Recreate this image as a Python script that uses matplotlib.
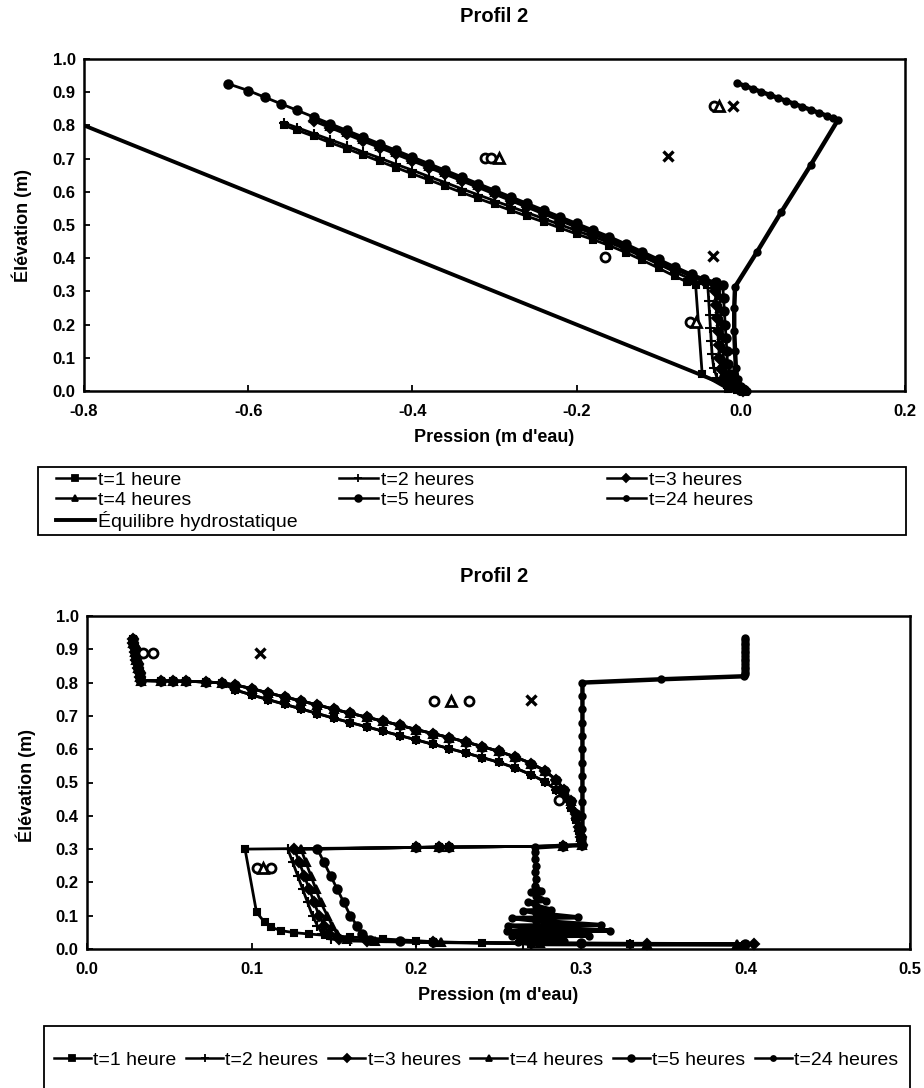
import matplotlib
matplotlib.use("Agg")
import matplotlib.pyplot as plt
from matplotlib.patches import Rectangle

plt.rcParams["font.family"] = ["Liberation Sans", "DejaVu Sans"]
plt.rcParams["axes.unicode_minus"] = False

W, H = 924, 1088

# ---------------- data : (pression, elevation) ----------------
labels = ["t=1 heure", "t=2 heures", "t=3 heures", "t=4 heures", "t=5 heures", "t=24 heures"]
hydro_label = "Équilibre hydrostatique"

# Profil 2 - first chart
top_t1 = [(-0.557, 0.800), (-0.540, 0.785), (-0.520, 0.767), (-0.500, 0.748), (-0.480, 0.730),
          (-0.460, 0.711), (-0.440, 0.692), (-0.420, 0.673), (-0.400, 0.654), (-0.380, 0.636),
          (-0.360, 0.617), (-0.340, 0.598), (-0.320, 0.580), (-0.300, 0.562), (-0.280, 0.544),
          (-0.260, 0.526), (-0.240, 0.509), (-0.220, 0.491), (-0.200, 0.473), (-0.180, 0.456),
          (-0.160, 0.438), (-0.140, 0.417), (-0.120, 0.394), (-0.100, 0.370), (-0.080, 0.345),
          (-0.065, 0.328), (-0.055, 0.318), (-0.047, 0.050), (-0.015, 0.005), (0.002, 0.000)]
top_t2 = [(-0.557, 0.808), (-0.540, 0.793), (-0.520, 0.775), (-0.500, 0.757), (-0.480, 0.739),
          (-0.460, 0.720), (-0.440, 0.702), (-0.420, 0.683), (-0.400, 0.665), (-0.380, 0.646),
          (-0.360, 0.628), (-0.340, 0.609), (-0.320, 0.591), (-0.300, 0.573), (-0.280, 0.555),
          (-0.260, 0.537), (-0.240, 0.519), (-0.220, 0.501), (-0.200, 0.483), (-0.180, 0.465),
          (-0.160, 0.447), (-0.140, 0.427), (-0.120, 0.405), (-0.100, 0.382), (-0.080, 0.358),
          (-0.060, 0.336), (-0.045, 0.322), (-0.040, 0.310), (-0.039, 0.270), (-0.038, 0.230),
          (-0.037, 0.190), (-0.036, 0.150), (-0.035, 0.110), (-0.033, 0.070), (-0.029, 0.040),
          (-0.020, 0.020), (-0.008, 0.007), (0.002, 0.000)]
top_t3 = [(-0.520, 0.813), (-0.500, 0.793), (-0.480, 0.773), (-0.460, 0.753), (-0.440, 0.733),
          (-0.420, 0.713), (-0.400, 0.693), (-0.380, 0.673), (-0.360, 0.653), (-0.340, 0.633),
          (-0.320, 0.613), (-0.300, 0.593), (-0.280, 0.573), (-0.260, 0.553), (-0.240, 0.533),
          (-0.220, 0.513), (-0.200, 0.493), (-0.180, 0.473), (-0.160, 0.453), (-0.140, 0.432),
          (-0.120, 0.410), (-0.100, 0.388), (-0.080, 0.366), (-0.060, 0.345), (-0.045, 0.332),
          (-0.033, 0.322), (-0.031, 0.300), (-0.030, 0.260), (-0.029, 0.220), (-0.028, 0.180),
          (-0.027, 0.140), (-0.026, 0.100), (-0.024, 0.065), (-0.020, 0.040), (-0.012, 0.020),
          (-0.004, 0.007), (0.003, 0.000)]
top_t4 = [(-0.520, 0.822), (-0.500, 0.799), (-0.480, 0.779), (-0.460, 0.759), (-0.440, 0.739),
          (-0.420, 0.719), (-0.400, 0.699), (-0.380, 0.679), (-0.360, 0.659), (-0.340, 0.639),
          (-0.320, 0.619), (-0.300, 0.599), (-0.280, 0.579), (-0.260, 0.559), (-0.240, 0.539),
          (-0.220, 0.519), (-0.200, 0.499), (-0.180, 0.479), (-0.160, 0.459), (-0.140, 0.437),
          (-0.120, 0.415), (-0.100, 0.392), (-0.080, 0.370), (-0.060, 0.348), (-0.045, 0.335),
          (-0.030, 0.325), (-0.027, 0.318), (-0.026, 0.290), (-0.025, 0.250), (-0.024, 0.210),
          (-0.023, 0.170), (-0.022, 0.130), (-0.021, 0.090), (-0.019, 0.060), (-0.015, 0.035),
          (-0.008, 0.018), (-0.002, 0.006), (0.004, 0.000)]
top_t5 = [(-0.624, 0.925), (-0.600, 0.905), (-0.580, 0.885), (-0.560, 0.865), (-0.540, 0.845),
          (-0.520, 0.825), (-0.500, 0.805), (-0.480, 0.785), (-0.460, 0.765), (-0.440, 0.745),
          (-0.420, 0.725), (-0.400, 0.705), (-0.380, 0.685), (-0.360, 0.665), (-0.340, 0.645),
          (-0.320, 0.625), (-0.300, 0.605), (-0.280, 0.585), (-0.260, 0.565), (-0.240, 0.545),
          (-0.220, 0.525), (-0.200, 0.505), (-0.180, 0.485), (-0.160, 0.465), (-0.140, 0.443),
          (-0.120, 0.420), (-0.100, 0.397), (-0.080, 0.374), (-0.060, 0.352), (-0.045, 0.338),
          (-0.030, 0.328), (-0.022, 0.320), (-0.021, 0.280), (-0.020, 0.240), (-0.019, 0.200),
          (-0.018, 0.160), (-0.017, 0.120), (-0.016, 0.080), (-0.013, 0.050), (-0.008, 0.030),
          (-0.003, 0.015), (0.003, 0.005)]
top_t24 = [(-0.005, 0.928), (0.005, 0.919), (0.015, 0.910), (0.025, 0.901), (0.035, 0.892),
           (0.045, 0.883), (0.055, 0.874), (0.065, 0.865), (0.075, 0.856), (0.085, 0.847),
           (0.095, 0.838), (0.105, 0.829), (0.112, 0.822), (0.118, 0.815), (0.085, 0.680),
           (0.049, 0.538), (0.020, 0.420), (-0.007, 0.314), (-0.008, 0.250), (-0.008, 0.180),
           (-0.007, 0.120), (-0.006, 0.070), (-0.004, 0.035), (0.000, 0.015), (0.005, 0.005),
           (0.008, 0.000)]
top_hydro = [(-0.8, 0.8), (-0.7, 0.7), (-0.6, 0.6), (-0.5, 0.5), (-0.4, 0.4),
             (-0.3, 0.3), (-0.2, 0.2), (-0.1, 0.1), (0.0, 0.0)]
top_obs_circle = [(-0.312, 0.703), (-0.304, 0.703), (-0.165, 0.405), (-0.033, 0.858), (-0.062, 0.208)]
top_obs_triangle = [(-0.295, 0.703), (-0.027, 0.858), (-0.055, 0.208)]
top_obs_cross = [(-0.089, 0.707), (-0.010, 0.858), (-0.034, 0.408)]

# Profil 2 - second chart
bot_cap = [(0.028, 0.930), (0.028, 0.918), (0.029, 0.905), (0.029, 0.893), (0.030, 0.880),
           (0.030, 0.868), (0.031, 0.855), (0.031, 0.843), (0.032, 0.830), (0.032, 0.818),
           (0.033, 0.806), (0.045, 0.805), (0.052, 0.805), (0.060, 0.804), (0.072, 0.802),
           (0.082, 0.799)]
bot_upper = [(0.090, 0.793), (0.100, 0.782), (0.110, 0.769), (0.120, 0.757), (0.130, 0.745),
             (0.140, 0.733), (0.150, 0.720), (0.160, 0.708), (0.170, 0.696), (0.180, 0.684),
             (0.190, 0.672), (0.200, 0.659), (0.210, 0.647), (0.220, 0.635), (0.230, 0.622),
             (0.240, 0.608), (0.250, 0.594), (0.260, 0.577), (0.270, 0.557), (0.278, 0.536),
             (0.285, 0.508), (0.290, 0.478), (0.294, 0.445), (0.297, 0.405), (0.299, 0.365),
             (0.300, 0.335), (0.301, 0.312)]
bot_lower = [(0.090, 0.778), (0.100, 0.763), (0.110, 0.749), (0.120, 0.735), (0.130, 0.721),
             (0.140, 0.707), (0.150, 0.693), (0.160, 0.680), (0.170, 0.667), (0.180, 0.654),
             (0.190, 0.641), (0.200, 0.628), (0.210, 0.615), (0.220, 0.602), (0.230, 0.589),
             (0.240, 0.575), (0.250, 0.561), (0.260, 0.544), (0.270, 0.523), (0.278, 0.503),
             (0.285, 0.478), (0.290, 0.452), (0.294, 0.422), (0.297, 0.388), (0.299, 0.355),
             (0.300, 0.328), (0.301, 0.312)]
bot_step = [(0.289, 0.309), (0.220, 0.306), (0.214, 0.306), (0.200, 0.305)]
bot_t1_tail = [(0.096, 0.300), (0.103, 0.110), (0.108, 0.080), (0.112, 0.065),
               (0.118, 0.055), (0.126, 0.049), (0.135, 0.045), (0.145, 0.041), (0.160, 0.036),
               (0.180, 0.030), (0.200, 0.025), (0.210, 0.022), (0.240, 0.018), (0.270, 0.015),
               (0.330, 0.014), (0.400, 0.013)]
bot_t2_tail = [(0.122, 0.300), (0.125, 0.260), (0.128, 0.220), (0.131, 0.180), (0.134, 0.140),
               (0.137, 0.100), (0.140, 0.070), (0.143, 0.045), (0.148, 0.030), (0.160, 0.024),
               (0.200, 0.020), (0.265, 0.016), (0.330, 0.014), (0.400, 0.012)]
bot_t3_tail = [(0.126, 0.300), (0.129, 0.260), (0.132, 0.220), (0.135, 0.180), (0.138, 0.140),
               (0.141, 0.100), (0.144, 0.070), (0.147, 0.045), (0.153, 0.030), (0.170, 0.024),
               (0.210, 0.020), (0.270, 0.017), (0.340, 0.015), (0.405, 0.014)]
bot_t4_tail = [(0.130, 0.300), (0.133, 0.260), (0.136, 0.220), (0.139, 0.180), (0.142, 0.140),
               (0.146, 0.100), (0.149, 0.070), (0.152, 0.045), (0.158, 0.030), (0.175, 0.024),
               (0.215, 0.020), (0.275, 0.018), (0.340, 0.016), (0.395, 0.015)]
bot_t5_tail = [(0.140, 0.300), (0.144, 0.260), (0.148, 0.220), (0.152, 0.180), (0.156, 0.140),
               (0.160, 0.100), (0.164, 0.070), (0.167, 0.045), (0.172, 0.028), (0.190, 0.023),
               (0.210, 0.020), (0.300, 0.018), (0.400, 0.016)]
bot_t24 = [(0.400, 0.935), (0.400, 0.928), (0.400, 0.920), (0.400, 0.912), (0.400, 0.904),
           (0.400, 0.896), (0.400, 0.888), (0.400, 0.880), (0.400, 0.872), (0.400, 0.864),
           (0.400, 0.856), (0.400, 0.848), (0.400, 0.840), (0.400, 0.832), (0.400, 0.825),
           (0.399, 0.819), (0.349, 0.810), (0.301, 0.800), (0.301, 0.760), (0.301, 0.720),
           (0.301, 0.680), (0.301, 0.640), (0.301, 0.600), (0.301, 0.560), (0.301, 0.520),
           (0.301, 0.480), (0.301, 0.440), (0.301, 0.400), (0.301, 0.360), (0.301, 0.330),
           (0.301, 0.312), (0.289, 0.310), (0.272, 0.305), (0.272, 0.290), (0.272, 0.270),
           (0.273, 0.250), (0.272, 0.230), (0.273, 0.210), (0.272, 0.190), (0.276, 0.175),
           (0.270, 0.170), (0.273, 0.160), (0.279, 0.145), (0.268, 0.140), (0.273, 0.130),
           (0.282, 0.118), (0.265, 0.115), (0.273, 0.108), (0.298, 0.095), (0.258, 0.093),
           (0.273, 0.085), (0.312, 0.072), (0.256, 0.070), (0.273, 0.063), (0.318, 0.055),
           (0.255, 0.054), (0.273, 0.048), (0.305, 0.040), (0.258, 0.038), (0.272, 0.030),
           (0.290, 0.025), (0.262, 0.022), (0.270, 0.015), (0.330, 0.014), (0.400, 0.014)]
bot_obs_circle = [(0.034, 0.888), (0.040, 0.888), (0.211, 0.745), (0.232, 0.745),
                  (0.103, 0.243), (0.112, 0.243), (0.287, 0.446)]
bot_obs_triangle = [(0.221, 0.745), (0.107, 0.243)]
bot_obs_cross = [(0.105, 0.888), (0.270, 0.748)]

top_series = [top_t1, top_t2, top_t3, top_t4, top_t5, top_t24]
bot_series = [bot_cap + bot_lower + bot_step + bot_t1_tail,
              bot_cap + bot_lower + bot_step + bot_t2_tail,
              bot_cap + bot_upper + bot_step + bot_t3_tail,
              bot_cap + bot_upper + bot_step + bot_t4_tail,
              bot_cap + bot_upper + bot_step + bot_t5_tail,
              bot_t24]

top_xticks = [-0.8, -0.6, -0.4, -0.2, 0.0, 0.2]
bot_xticks = [0.0, 0.1, 0.2, 0.3, 0.4, 0.5]
yticks = [0.0, 0.1, 0.2, 0.3, 0.4, 0.5, 0.6, 0.7, 0.8, 0.9, 1.0]

# ---------------- styles ----------------
markers = ["s", "+", "D", "^", "o", "o"]
msizes = [5.0, 7.0, 5.0, 6.0, 6.0, 4.5]
lwidths = [2.0, 2.0, 2.0, 2.0, 2.0, 3.2]


def fx(px):
    return px / W


def fy(py):
    return 1 - py / H


def draw_series(ax, pts, marker, ms, lw):
    p, z = zip(*pts)
    return ax.plot(p, z, color="black", lw=lw, marker=marker, ms=ms, mfc="black",
                   mec="black", mew=1.5, clip_on=False)[0]


def draw_obs(ax, pts, marker):
    p, z = zip(*pts)
    ax.plot(p, z, ls="none", marker=marker, ms=6.5, mfc="white", mec="black", mew=2.0,
            clip_on=False)


def style_axes(ax, xticks, xlim):
    ax.set_xlim(*xlim)
    ax.set_ylim(0, 1)
    ax.set_xticks(xticks, labels=[f"{t:.1f}" for t in xticks], fontsize=12, fontweight="bold")
    ax.set_yticks(yticks, labels=[f"{t:.1f}" for t in yticks], fontsize=12, fontweight="bold")
    ax.tick_params(axis="both", direction="in", length=4, width=1.3)
    ax.tick_params(axis="x", pad=9)
    ax.tick_params(axis="y", pad=6)
    for s in ax.spines.values():
        s.set_linewidth(1.8)


def legend_handle(marker, ms):
    return plt.Line2D([], [], color="black", lw=1.8, marker=marker, ms=ms * 0.8, mfc="black",
                      mec="black", mew=1.3)


fig = plt.figure(figsize=(W / 100, H / 100), dpi=100)

# ---- chart 1 ----
ax1 = fig.add_axes([fx(84), fy(391), (905 - 84) / W, (391 - 59) / H])
for pts, m, ms, lw in zip(top_series, markers, msizes, lwidths):
    draw_series(ax1, pts, m, ms, lw)
hp, hz = zip(*top_hydro)
ax1.plot(hp, hz, color="black", lw=2.8)
draw_obs(ax1, top_obs_circle, "o")
draw_obs(ax1, top_obs_triangle, "^")
ax1.plot(*zip(*top_obs_cross), ls="none", marker="x", ms=6.5, mec="black", mew=2.4)
style_axes(ax1, top_xticks, (-0.8, 0.2))

fig.text(fx(494), fy(17), "Profil 2", ha="center", va="center", fontsize=14.5, fontweight="bold")
fig.text(fx(494), fy(438), "Pression (m d'eau)", ha="center", va="center", fontsize=13,
         fontweight="bold")
fig.text(fx(22), fy(225), "Élévation (m)", ha="center", va="center", rotation=90,
         fontsize=13, fontweight="bold")

handles = [legend_handle(m, ms) for m, ms in zip(markers, msizes)]
h_hydro = plt.Line2D([], [], color="black", lw=2.8)

# legend 1 : three columns inside one frame
fig.add_artist(Rectangle((fx(38), fy(535)), (906 - 38) / W, (535 - 467) / H,
                         transform=fig.transFigure, fill=False, lw=1.3, ec="black"))
cols = [([handles[0], handles[3], h_hydro], [labels[0], labels[3], hydro_label], 56),
        ([handles[1], handles[4]], [labels[1], labels[4]], 339),
        ([handles[2], handles[5]], [labels[2], labels[5]], 607)]
for hs, ls, x0 in cols:
    fig.legend(hs, ls, loc="upper left", bbox_to_anchor=(fx(x0), fy(471)), frameon=False,
               fontsize=14, handlelength=2.0, handletextpad=0.15, labelspacing=0.12,
               borderpad=0, borderaxespad=0)

# ---- chart 2 ----
ax2 = fig.add_axes([fx(87), fy(949), (910 - 87) / W, (949 - 616) / H])
for pts, m, ms, lw in zip(bot_series, markers, msizes, lwidths):
    draw_series(ax2, pts, m, ms, lw)
draw_obs(ax2, bot_obs_circle, "o")
draw_obs(ax2, bot_obs_triangle, "^")
ax2.plot(*zip(*bot_obs_cross), ls="none", marker="x", ms=6.5, mec="black", mew=2.4)
style_axes(ax2, bot_xticks, (0.0, 0.5))

fig.text(fx(494), fy(577), "Profil 2", ha="center", va="center", fontsize=14.5, fontweight="bold")
fig.text(fx(498), fy(995), "Pression (m d'eau)", ha="center", va="center", fontsize=13,
         fontweight="bold")
fig.text(fx(26), fy(785), "Élévation (m)", ha="center", va="center", rotation=90,
         fontsize=13, fontweight="bold")

fig.add_artist(Rectangle((fx(44), fy(1100)), (910 - 44) / W, (1100 - 1026) / H,
                         transform=fig.transFigure, fill=False, lw=1.3, ec="black",
                         clip_on=False))
fig.legend(handles, labels, loc="center", bbox_to_anchor=(fx(476), fy(1060)), ncol=6,
           frameon=False, fontsize=14, handlelength=1.9, handletextpad=0.12,
           columnspacing=0.5, borderpad=0, borderaxespad=0)

fig.savefig("out.png", dpi=100)
